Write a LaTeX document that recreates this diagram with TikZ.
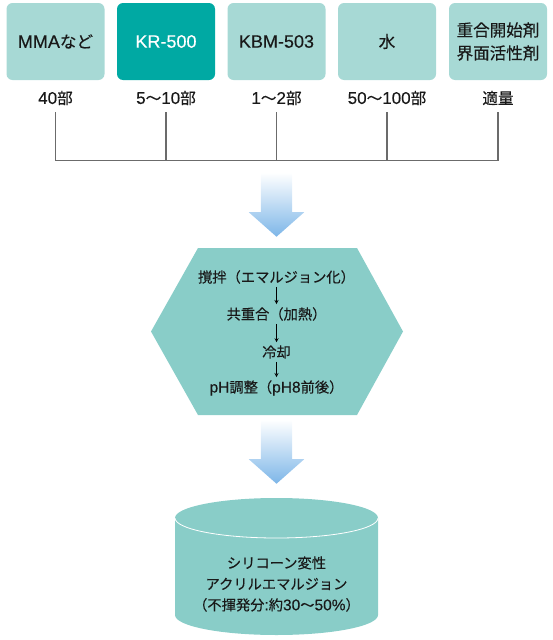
\documentclass[tikz,border=0pt]{standalone}
\usepackage{fontspec}
\setmainfont[FakeBold=0.3]{Liberation Sans}
\newfontfamily\jp[Scale=0.92, FakeBold=0.3]{Noto Sans CJK JP}
\usetikzlibrary{shapes.arrows, arrows}
\definecolor{boxlight}{HTML}{A7D9D5}
\definecolor{boxdark}{HTML}{00A9A3}
\definecolor{hexfill}{HTML}{89CDC8}
\definecolor{linegray}{HTML}{6B6B6B}
\definecolor{arrowblue}{HTML}{7DB6E8}
\tikzstyle{material} = [rectangle, rounded corners=6pt, minimum width=98pt, minimum height=77pt, text centered, align=center, inner sep=0pt, fill=boxlight, text=black!90, font=\fontsize{18}{23}\selectfont]
\tikzstyle{highlight} = [material, fill=boxdark, text=white]
\tikzstyle{amount} = [minimum height=28pt, inner sep=0pt, text=black!90, font=\fontsize{17}{20}\selectfont]
\tikzstyle{edge} = [line width=1.3pt, draw=linegray]
\tikzstyle{flow} = [single arrow, shape border rotate=270, minimum width=55pt, minimum height=64pt, single arrow head extend=12pt, single arrow tip angle=97, inner sep=15.5pt, top color=white, bottom color=arrowblue, anchor=tip]
\tikzstyle{process} = [inner sep=0pt, text=black!90, font=\fontsize{15.5}{18}\selectfont]
\tikzstyle{substep} = [line width=0.8pt, ->, >=stealth, shorten <=3pt, shorten >=3pt]
\begin{document}
\begin{tikzpicture}[x=1pt, y=-1pt]
\useasboundingbox (0,0) rectangle (553,640);

\node (0) [material] at (55.5,41.5) {MMA{\jp など}};
\node (1) [highlight] at (166,41.5) {KR-500};
\node (2) [material] at (276.5,41.5) {KBM-503};
\node (3) [material] at (387,41.5) {{\jp 水}};
\node (4) [material] at (498,41.5) {{\jp 重合開始剤}\\{\jp 界面活性剤}};

\node (q0) [amount] at (55.5,98) {40{\jp 部}};
\node (q1) [amount] at (166,98) {5{\jp 〜}10{\jp 部}};
\node (q2) [amount] at (276.5,98) {1{\jp 〜}2{\jp 部}};
\node (q3) [amount] at (387,98) {50{\jp 〜}100{\jp 部}};
\node (q4) [amount] at (498,98) {{\jp 適量}};

\coordinate (j) at (276.5,160.5);
\draw [edge] (q0.south) |- (j);
\draw [edge] (q1.south) |- (j);
\draw [edge] (q2.south) -- (j);
\draw [edge] (q3.south) |- (j);
\draw [edge] (q4.south) |- (j);

\node (a1) [flow] at (276.5,237) {};

\fill [hexfill] (151,331.5) -- (198,248) -- (357,248) -- (403,331.5) -- (357,415) -- (198,415) -- cycle;
\node (p1) [process] at (276.5,277) {{\jp 撹拌（エマルジョン化）}};
\node (p2) [process] at (276.5,314) {{\jp 共重合（加熱）}};
\node (p3) [process] at (276.5,352) {{\jp 冷却}};
\node (p4) [process] at (276.5,388) {pH{\jp 調整（}pH8{\jp 前後）}};
\draw [substep] (p1) -- (p2);
\draw [substep] (p2) -- (p3);
\draw [substep] (p3) -- (p4);

\node (a2) [flow] at (276.5,484) {};

\fill [hexfill] (175,518) -- (175,615) arc[start angle=180, end angle=360, x radius=101.5pt, y radius=20pt] -- (378,518) arc[start angle=0, end angle=180, x radius=101.5pt, y radius=20pt] -- cycle;
\draw [white, line width=0.8pt] (175,518) arc[start angle=180, end angle=360, x radius=101.5pt, y radius=20pt];
\node (c) [process, align=center, font=\fontsize{15.5}{21}\selectfont] at (276.5,584) {{\jp シリコーン変性}\\{\jp アクリルエマルジョン}\\{\jp （不揮発分}:{\jp 約}30{\jp 〜}50\%{\jp ）}};

\end{tikzpicture}
\end{document}
